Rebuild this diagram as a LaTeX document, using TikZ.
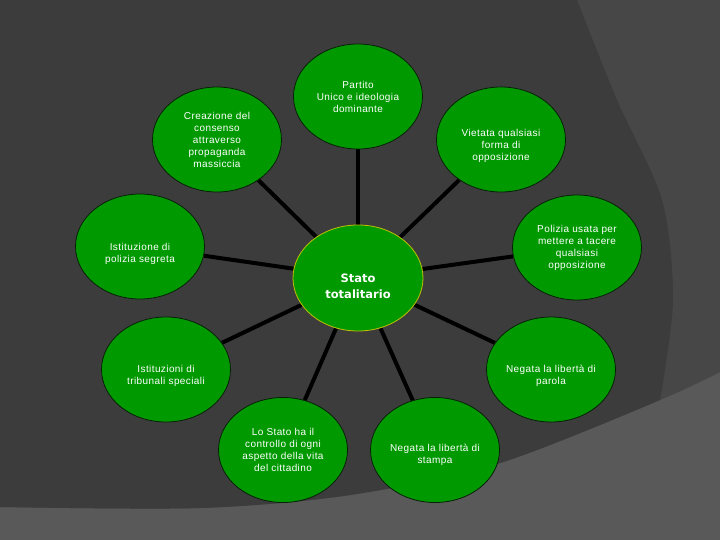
\documentclass[tikz,border=0pt]{standalone}
\usepackage{fontspec}
\setmainfont{Liberation Sans}
\newfontfamily\satfont[LetterSpace=4]{Liberation Sans}
\newfontfamily\ctrfont{DejaVu Sans}
\usetikzlibrary{shapes.geometric}
\definecolor{bgdark}{HTML}{3C3C3C}
\definecolor{bgmid}{HTML}{474747}
\definecolor{bglight}{HTML}{595959}
\definecolor{nodegreen}{HTML}{009900}
\definecolor{ctrborder}{HTML}{C0C000}
\definecolor{satborder}{HTML}{062006}
\newcommand\dnshift[1]{\rule{0pt}{#1pt}}
\pgfdeclarelayer{bglayer}
\pgfsetlayers{bglayer,main}
\begin{document}
\begin{tikzpicture}[x=1pt,y=-1pt,
  sat/.style={ellipse, fill=nodegreen, draw=satborder, line width=0.8pt,
    minimum width=129pt, minimum height=105pt, inner sep=0pt, align=center,
    text=white, font=\satfont\fontsize{10}{12}\selectfont},
  ctr/.style={ellipse, fill=nodegreen, draw=ctrborder, line width=0.8pt,
    minimum width=130pt, minimum height=106pt, inner sep=0pt, align=center,
    text=white, font=\ctrfont\bfseries\fontsize{11.5}{16}\selectfont},
  spoke/.style={draw=black, line width=4pt}]
\useasboundingbox (0,0) rectangle (720,540);

\node[ctr] (c) at (358,278) {\dnshift{26}Stato\\totalitario};
\node[sat] (p1) at (358,96.5) {Partito\\Unico e ideologia\\dominante};
\node[sat] (p2) at (217,139.5) {Creazione del\\consenso\\attraverso\\propaganda\\massiccia};
\node[sat] (p3) at (501,139.5) {\dnshift{19.5}Vietata qualsiasi\\forma di\\opposizione};
\node[sat] (p4) at (140,246.5) {\dnshift{22.5}Istituzione di\\polizia segreta};
\node[sat] (p5) at (577,247.5) {Polizia usata per\\mettere a tacere\\qualsiasi\\opposizione};
\node[sat] (p6) at (166,369.5) {\dnshift{19.5}Istituzioni di\\tribunali speciali};
\node[sat] (p7) at (551,369.5) {\dnshift{19.5}Negata la libertà di\\parola};
\node[sat] (p8) at (283,450) {Lo Stato ha il\\controllo di ogni\\aspetto della vita\\del cittadino};
\node[sat] (p9) at (435,450) {\dnshift{17.5}Negata la libertà di\\stampa};

\begin{pgfonlayer}{bglayer}
  \fill[bglight] (0,0) rectangle (720,540);
  \fill[bgmid] (0,0) -- (720,0) -- (720,372) -- plot[smooth] coordinates
    {(720,372) (660,400) (500,463) (350,495) (200,508) (0,507)} -- cycle;
  \fill[bgdark] (0,0) -- (577,0) -- plot[smooth] coordinates
    {(577,0) (617,100) (662,200) (673,300) (660,400)} -- plot[smooth] coordinates
    {(660,400) (500,463) (350,495) (200,508) (0,507)} -- cycle;
  \foreach \s in {p1,p2,p3,p4,p5,p6,p7,p8,p9}
    \draw[spoke] (c) -- (\s);
\end{pgfonlayer}
\end{tikzpicture}
\end{document}
